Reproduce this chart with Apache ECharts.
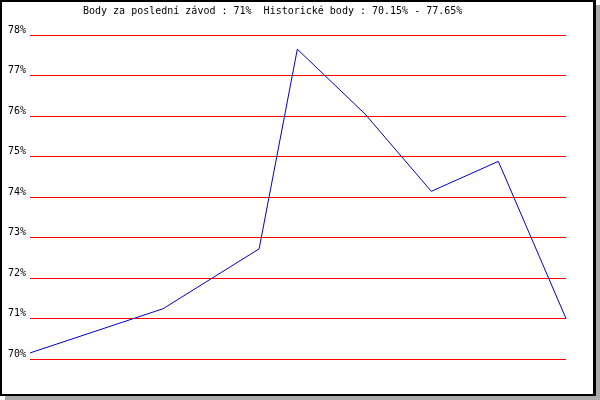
<!DOCTYPE html>
<html>
<head>
<meta charset="utf-8">
<script src="https://cdn.jsdelivr.net/npm/echarts@6/dist/echarts.min.js"></script>
<style>
html,body{margin:0;padding:0;background:#fff;}
#c{width:600px;height:400px;}
</style>
</head>
<body>
<div id="c"></div>
<script>
// Data
var titleText = "Body za poslední závod : 71%  Historické body : 70.15% - 77.65%";
var racePositions = [0, 1.985, 3.42, 3.99, 5.0, 5.99, 6.99, 8];
var pointValues = [70.15, 71.24, 72.72, 77.65, 76.05, 74.14, 74.88, 71.0];
var yMin = 70, yMax = 78, yStep = 1;

var seriesData = racePositions.map(function (x, i) { return [x, pointValues[i]]; });

var chart = echarts.init(document.getElementById('c'), null, { renderer: 'canvas' });
var font = "'DejaVu Sans Mono', monospace";
chart.setOption({
  animation: false,
  backgroundColor: '#ffffff',
  graphic: [
    { type: 'rect', z: -10, shape: { x: 5, y: 5, width: 595, height: 395 }, style: { fill: '#aaaaaa' }, silent: true },
    { type: 'rect', z: -9, shape: { x: 0, y: 0, width: 596, height: 396 }, style: { fill: '#000000' }, silent: true },
    { type: 'rect', z: -8, shape: { x: 2, y: 2, width: 591, height: 392 }, style: { fill: '#ffffff' }, silent: true }
  ],
  title: {
    text: titleText,
    left: 83,
    top: 6,
    padding: 0,
    textStyle: { fontFamily: font, fontSize: 10, fontWeight: 'normal', color: '#000' }
  },
  grid: { left: 30, right: 34, top: 35, bottom: 41, containLabel: false },
  xAxis: {
    type: 'value',
    min: 0,
    max: 8,
    show: false
  },
  yAxis: {
    type: 'value',
    min: yMin,
    max: yMax,
    interval: yStep,
    axisLine: { show: false },
    axisTick: { show: false },
    splitLine: { show: true, lineStyle: { color: '#ff0000', width: 1 } },
    axisLabel: {
      formatter: '{value}%',
      fontFamily: font,
      fontSize: 10,
      color: '#000',
      margin: 4,
      verticalAlign: 'bottom'
    }
  },
  series: [{
    type: 'line',
    data: seriesData,
    symbol: 'none',
    lineStyle: { color: '#0000cc', width: 1 },
    z: 5
  }]
});
</script>
</body>
</html>
